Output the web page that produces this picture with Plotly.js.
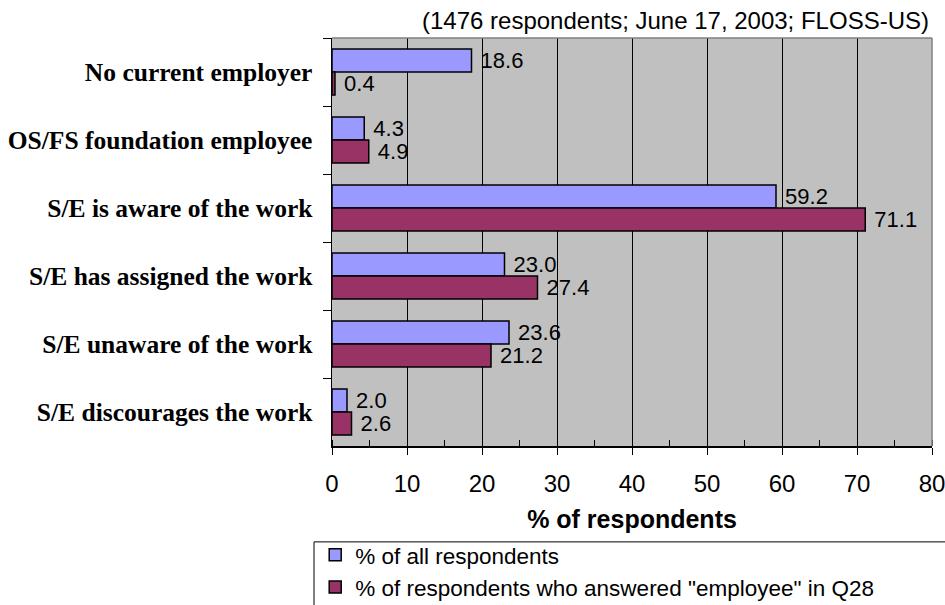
<!DOCTYPE html>
<html><head><meta charset="utf-8">
<script src="https://cdn.plot.ly/plotly-3.0.1.min.js"></script>
<style>body{margin:0;background:#fff}#chart{width:945px;height:605px}</style>
</head><body><div id="chart"></div>
<script>
const categories = ["No current employer","OS/FS foundation employee","S/E is aware of the work","S/E has assigned the work","S/E unaware of the work","S/E discourages the work"];
const seriesNames = ["% of all respondents","% of respondents who answered \"employee\" in Q28"];
const allRespondents = [18.6, 4.3, 59.2, 23.0, 23.6, 2.0];
const employeeRespondents = [0.4, 4.9, 71.1, 27.4, 21.2, 2.6];
const xTicks = [0,10,20,30,40,50,60,70,80];

const mk = (name, vals, color) => ({
  type: 'bar', orientation: 'h', name: name,
  y: categories, x: vals,
  text: vals.map(v => ' ' + v.toFixed(1)), textposition: 'outside', cliponaxis: false,
  constraintext: 'none',
  textfont: {family: 'Liberation Sans, Arial', size: 22, color: '#000'},
  marker: {color: color, line: {color: '#000', width: 1.5}},
  hoverinfo: 'skip'
});

const data = [
  mk(seriesNames[0], allRespondents, '#9999FF'),
  mk(seriesNames[1], employeeRespondents, '#993366')
];

const layout = {
  width: 945, height: 605,
  margin: {l: 332, r: 13, t: 38, b: 159, autoexpand: false},
  paper_bgcolor: '#fff', plot_bgcolor: '#C0C0C0',
  barmode: 'group', bargap: 0.32, bargroupgap: 0,
  font: {family: 'Liberation Sans, Arial', size: 22, color: '#000'},
  showlegend: true,
  legend: {x: -0.028, y: -0.215, xanchor: 'left', yanchor: 'top',
    bgcolor: 'rgba(0,0,0,0)', borderwidth: 0,
    font: {family: 'Liberation Sans, Arial', size: 22.5}, tracegroupgap: 0},
  xaxis: {range: [0, 80], tickvals: xTicks, ticktext: xTicks.map(String),
    showgrid: true, gridcolor: '#000', gridwidth: 1,
    showline: true, linecolor: '#000', linewidth: 1.5,
    ticks: 'outside', ticklen: 7, tickcolor: '#000',
    minor: {dtick: 5, ticks: 'inside', ticklen: 6, tickcolor: '#000', showgrid: false},
    tickfont: {size: 24}, ticklabelstandoff: 9, ticklabeloverflow: 'allow', zeroline: false,
    title: {text: '<b>% of respondents</b>', font: {size: 25}, standoff: 14}},
  yaxis: {type: 'category', categoryarray: categories, autorange: 'reversed',
    showline: true, linecolor: '#000', linewidth: 1.5,
    ticks: 'outside', tickson: 'boundaries', ticklen: 8, tickcolor: '#000',
    ticklabelstandoff: 13,
    tickfont: {family: 'Liberation Serif, Times New Roman', size: 25.5, weight: 'bold'},
    showgrid: false},
  shapes: [
    {type: 'line', xref: 'paper', yref: 'paper', x0: 0, x1: 1, y0: 1, y1: 1,
     line: {color: '#808080', width: 1.5}, layer: 'above'},
    {type: 'line', xref: 'paper', yref: 'paper', x0: 1, x1: 1, y0: 0, y1: 1,
     line: {color: '#808080', width: 1.5}, layer: 'above'},
    {type: 'rect', xref: 'paper', yref: 'paper', x0: -0.03, x1: 1.03, y0: -0.235, y1: -0.45,
     line: {color: '#000', width: 1}, fillcolor: 'rgba(0,0,0,0)', layer: 'above'}
  ],
  annotations: [{xref: 'paper', yref: 'paper', x: 0.998, y: 1.0, yshift: 2,
    xanchor: 'right', yanchor: 'bottom', showarrow: false,
    text: '(1476 respondents; June 17, 2003; FLOSS-US)',
    font: {family: 'Liberation Sans, Arial', size: 24}}]
};

Plotly.newPlot('chart', data, layout, {displayModeBar: false, staticPlot: true});
</script></body></html>
